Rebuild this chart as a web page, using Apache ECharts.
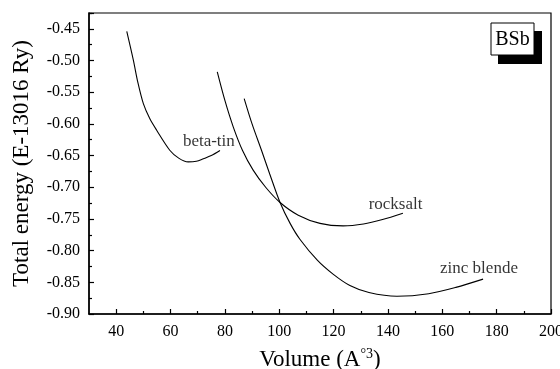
<!DOCTYPE html>
<html><head><meta charset="utf-8">
<script src="https://cdn.jsdelivr.net/npm/echarts@6/dist/echarts.min.js"></script>
<style>html,body{margin:0;padding:0;background:#fff}#c{width:560px;height:369px}</style>
</head><body><div id="c"></div>
<script>
const betaTinV = [43.9, 46.3, 48.0, 50.0, 52.4, 54.9, 59.8, 63, 66.5, 69.5, 72.1, 75, 78.2];
const betaTinE = [-0.454, -0.499, -0.535, -0.568, -0.592, -0.610, -0.642, -0.654, -0.660, -0.659, -0.655, -0.650, -0.642];
const rocksaltV = [77.2, 80, 83.1, 86.5, 90.4, 95, 100.3, 107, 115, 123.5, 131, 138, 145.5];
const rocksaltE = [-0.518, -0.563, -0.605, -0.642, -0.673, -0.700, -0.724, -0.744, -0.757, -0.761, -0.758, -0.751, -0.741];
const zincV = [87.1, 90, 93.5, 96.5, 100.3, 104, 107.6, 114, 119.8, 126, 133, 143.3, 155, 165, 175];
const zincE = [-0.560, -0.600, -0.642, -0.679, -0.724, -0.757, -0.782, -0.815, -0.837, -0.855, -0.866, -0.872, -0.868, -0.858, -0.845];
const xMajorTicks = [40, 60, 80, 100, 120, 140, 160, 180, 200];
const xMinorTicks = [50, 70, 90, 110, 130, 150, 170, 190];
const labels = [
  {text: 'beta-tin', v: 74.1, e: -0.6275},
  {text: 'rocksalt', v: 142.8, e: -0.7265},
  {text: 'zinc blende', v: 173.5, e: -0.8288}
];

const zip = (a, b) => a.map((x, i) => [x, b[i]]);
const font = 'Liberation Serif';
const chart = echarts.init(document.getElementById('c'), null, {renderer: 'canvas'});
const lineSeries = (name, d) => ({
  name, type: 'line', data: d, smooth: 0.3, showSymbol: false, symbol: 'none',
  lineStyle: {color: '#000', width: 1.1}, xAxisIndex: 0, yAxisIndex: 0, silent: true
});
chart.setOption({
  animation: false,
  backgroundColor: '#fff',
  grid: {left: 89, right: 9, top: 13, bottom: 55, containLabel: false, outerBoundsMode: 'none',
    show: true, borderColor: '#000', borderWidth: 1.2, backgroundColor: 'transparent'},
  xAxis: [{
    type: 'value', min: 30, max: 200, interval: 10,
    axisLine: {show: true, lineStyle: {color: '#000', width: 1.5}},
    axisTick: {show: true, inside: true, length: 5, customValues: xMajorTicks, lineStyle: {color: '#000', width: 1.2}},
    axisLabel: {customValues: xMajorTicks, color: '#000', fontFamily: font, fontSize: 16, margin: 10},
    splitLine: {show: false},
    name: 'Volume (A{sup|°3})', nameLocation: 'middle', nameGap: 33,
    nameTextStyle: {color: '#000', fontFamily: font, fontSize: 23, rich: {sup: {fontFamily: font, fontSize: 14, color: '#000', verticalAlign: 'top', padding: [0, 0, 12, 0]}}}
  }, {
    type: 'value', min: 30, max: 200, interval: 10, position: 'bottom',
    axisLine: {show: false},
    axisTick: {show: true, inside: true, length: 3, customValues: xMinorTicks, lineStyle: {color: '#000', width: 1.2}},
    axisLabel: {show: false}, splitLine: {show: false}
  }],
  yAxis: [{
    type: 'value', min: -0.9, max: -0.425, interval: 0.05,
    axisLine: {show: true, lineStyle: {color: '#000', width: 1.5}},
    axisTick: {show: true, inside: true, length: 5, lineStyle: {color: '#000', width: 1.2}},
    minorTick: {show: true, splitNumber: 2, length: 3, lineStyle: {color: '#000', width: 1.2}},
    axisLabel: {color: '#000', fontFamily: font, fontSize: 16, margin: 9, showMaxLabel: false, formatter: v => v.toFixed(2)},
    splitLine: {show: false}, minorSplitLine: {show: false},
    name: 'Total energy (E-13016 Ry)', nameLocation: 'middle', nameGap: 56, nameRotate: 90,
    nameTextStyle: {color: '#000', fontFamily: font, fontSize: 23}
  }],
  series: [
    lineSeries('beta-tin', zip(betaTinV, betaTinE)),
    lineSeries('rocksalt', zip(rocksaltV, rocksaltE)),
    lineSeries('zinc blende', zip(zincV, zincE)),
    {
      type: 'scatter', symbolSize: 0, silent: true,
      data: labels.map(l => ({value: [l.v, l.e], name: l.text})),
      label: {show: true, position: 'inside', formatter: p => p.name, color: '#000', textBorderWidth: 0, fontFamily: font, fontSize: 17}
    }
  ],
  graphic: [
    {type: 'rect', shape: {x: 498, y: 31, width: 44, height: 33}, style: {fill: '#000'}, z: 100},
    {type: 'rect', shape: {x: 491, y: 23, width: 43, height: 32}, style: {fill: '#fff', stroke: '#000', lineWidth: 1}, z: 101},
    {type: 'text', x: 512.5, y: 40, style: {text: 'BSb', fill: '#000', font: '20px "Liberation Serif"', align: 'center', verticalAlign: 'middle'}, z: 102}
  ]
});
</script></body></html>
